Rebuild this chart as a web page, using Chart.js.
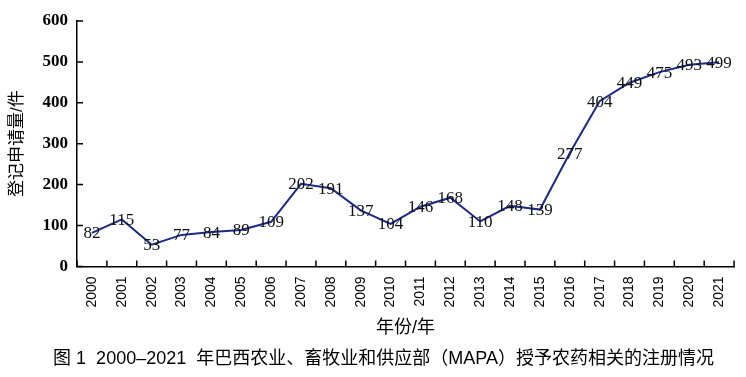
<!DOCTYPE html>
<html>
<head>
<meta charset="utf-8">
<script src="https://cdn.jsdelivr.net/npm/chart.js@4/dist/chart.umd.min.js"></script>
<style>
  html, body { margin: 0; padding: 0; background: #fff; }
  #wrap { width: 746px; height: 377px; }
</style>
</head>
<body>
<div id="wrap"><canvas id="c" width="746" height="377"></canvas></div>
<script>
const years = ['2000','2001','2002','2003','2004','2005','2006','2007','2008','2009','2010','2011','2012','2013','2014','2015','2016','2017','2018','2019','2020','2021'];
const registrations = [82,115,53,77,84,89,109,202,191,137,104,146,168,110,148,139,277,404,449,475,493,499];
const yTicks = [0,100,200,300,400,500,600];
const yTitle = '登记申请量/件';
const xTitle = '年份/年';
const caption = '     图 1  2000–2021  年巴西农业、畜牧业和供应部（MAPA）授予农药相关的注册情况';

const serif = '"Liberation Serif", "Times New Roman", serif';
const sans = '"Liberation Sans", Arial, sans-serif';
const cjk = '"Liberation Sans", "Noto Sans CJK SC", sans-serif';

const innerTicks = {
  id: 'innerTicks',
  afterDraw(chart) {
    const ctx = chart.ctx;
    const xs = chart.scales.x, ys = chart.scales.y;
    ctx.save();
    ctx.strokeStyle = '#000';
    ctx.lineWidth = 1.5;
    ctx.beginPath();
    for (let i = 0; i <= years.length; i++) {
      const x = xs.getPixelForValue(i - 0.5);
      ctx.moveTo(x, ys.bottom);
      ctx.lineTo(x, ys.bottom - 6);
    }
    yTicks.forEach(v => {
      const y = ys.getPixelForValue(v);
      ctx.moveTo(xs.left, y);
      ctx.lineTo(xs.left + 6, y);
    });
    ctx.stroke();
    ctx.restore();
  }
};

const pointLabels = {
  id: 'pointLabels',
  afterDatasetsDraw(chart) {
    const ctx = chart.ctx;
    const meta = chart.getDatasetMeta(0);
    ctx.save();
    ctx.font = '17px ' + serif;
    ctx.fillStyle = '#111';
    ctx.textAlign = 'center';
    ctx.textBaseline = 'middle';
    meta.data.forEach((pt, i) => {
      ctx.fillText(String(registrations[i]), pt.x, pt.y + 1);
    });
    ctx.restore();
  }
};

new Chart(document.getElementById('c'), {
  type: 'line',
  data: {
    labels: years,
    datasets: [{
      data: registrations,
      borderColor: '#1b2a86',
      borderWidth: 2,
      pointRadius: 0,
      tension: 0,
      fill: false
    }]
  },
  options: {
    responsive: false,
    animation: false,
    layout: { padding: { top: 21, right: 4, left: 0, bottom: 0 } },
    plugins: {
      legend: { display: false },
      tooltip: { enabled: false },
      title: {
        display: true,
        position: 'bottom',
        text: caption,
        color: '#000',
        font: { family: cjk, size: 18, weight: 'normal' },
        padding: { top: 1, bottom: 7 }
      }
    },
    scales: {
      x: {
        offset: true,
        grid: { display: true, drawOnChartArea: false, drawTicks: false, offset: true, color: 'rgba(0,0,0,0)' },
        border: { display: true, color: '#000', width: 1.5 },
        ticks: {
          color: '#000',
          font: { family: sans, size: 14 },
          minRotation: 90,
          maxRotation: 90,
          padding: 10,
          autoSkip: false
        },
        title: {
          display: true,
          text: xTitle,
          color: '#000',
          font: { family: cjk, size: 18 },
          padding: { top: 2, bottom: 9 }
        },
        afterFit(scale) { scale.height = 81; }
      },
      y: {
        min: 0,
        max: 600,
        afterBuildTicks(scale) { scale.ticks = yTicks.map(v => ({ value: v })); },
        grid: { display: false, drawTicks: false },
        border: { display: true, color: '#000', width: 1.5 },
        ticks: {
          color: '#000',
          font: { family: serif, size: 17, weight: 'bold' },
          padding: 9
        },
        title: {
          display: true,
          text: yTitle,
          color: '#000',
          font: { family: cjk, size: 17 },
          padding: { top: 7, bottom: 0 }
        },
        afterFit(scale) { scale.width = 77; }
      }
    }
  },
  plugins: [innerTicks, pointLabels]
});
</script>
</body>
</html>
